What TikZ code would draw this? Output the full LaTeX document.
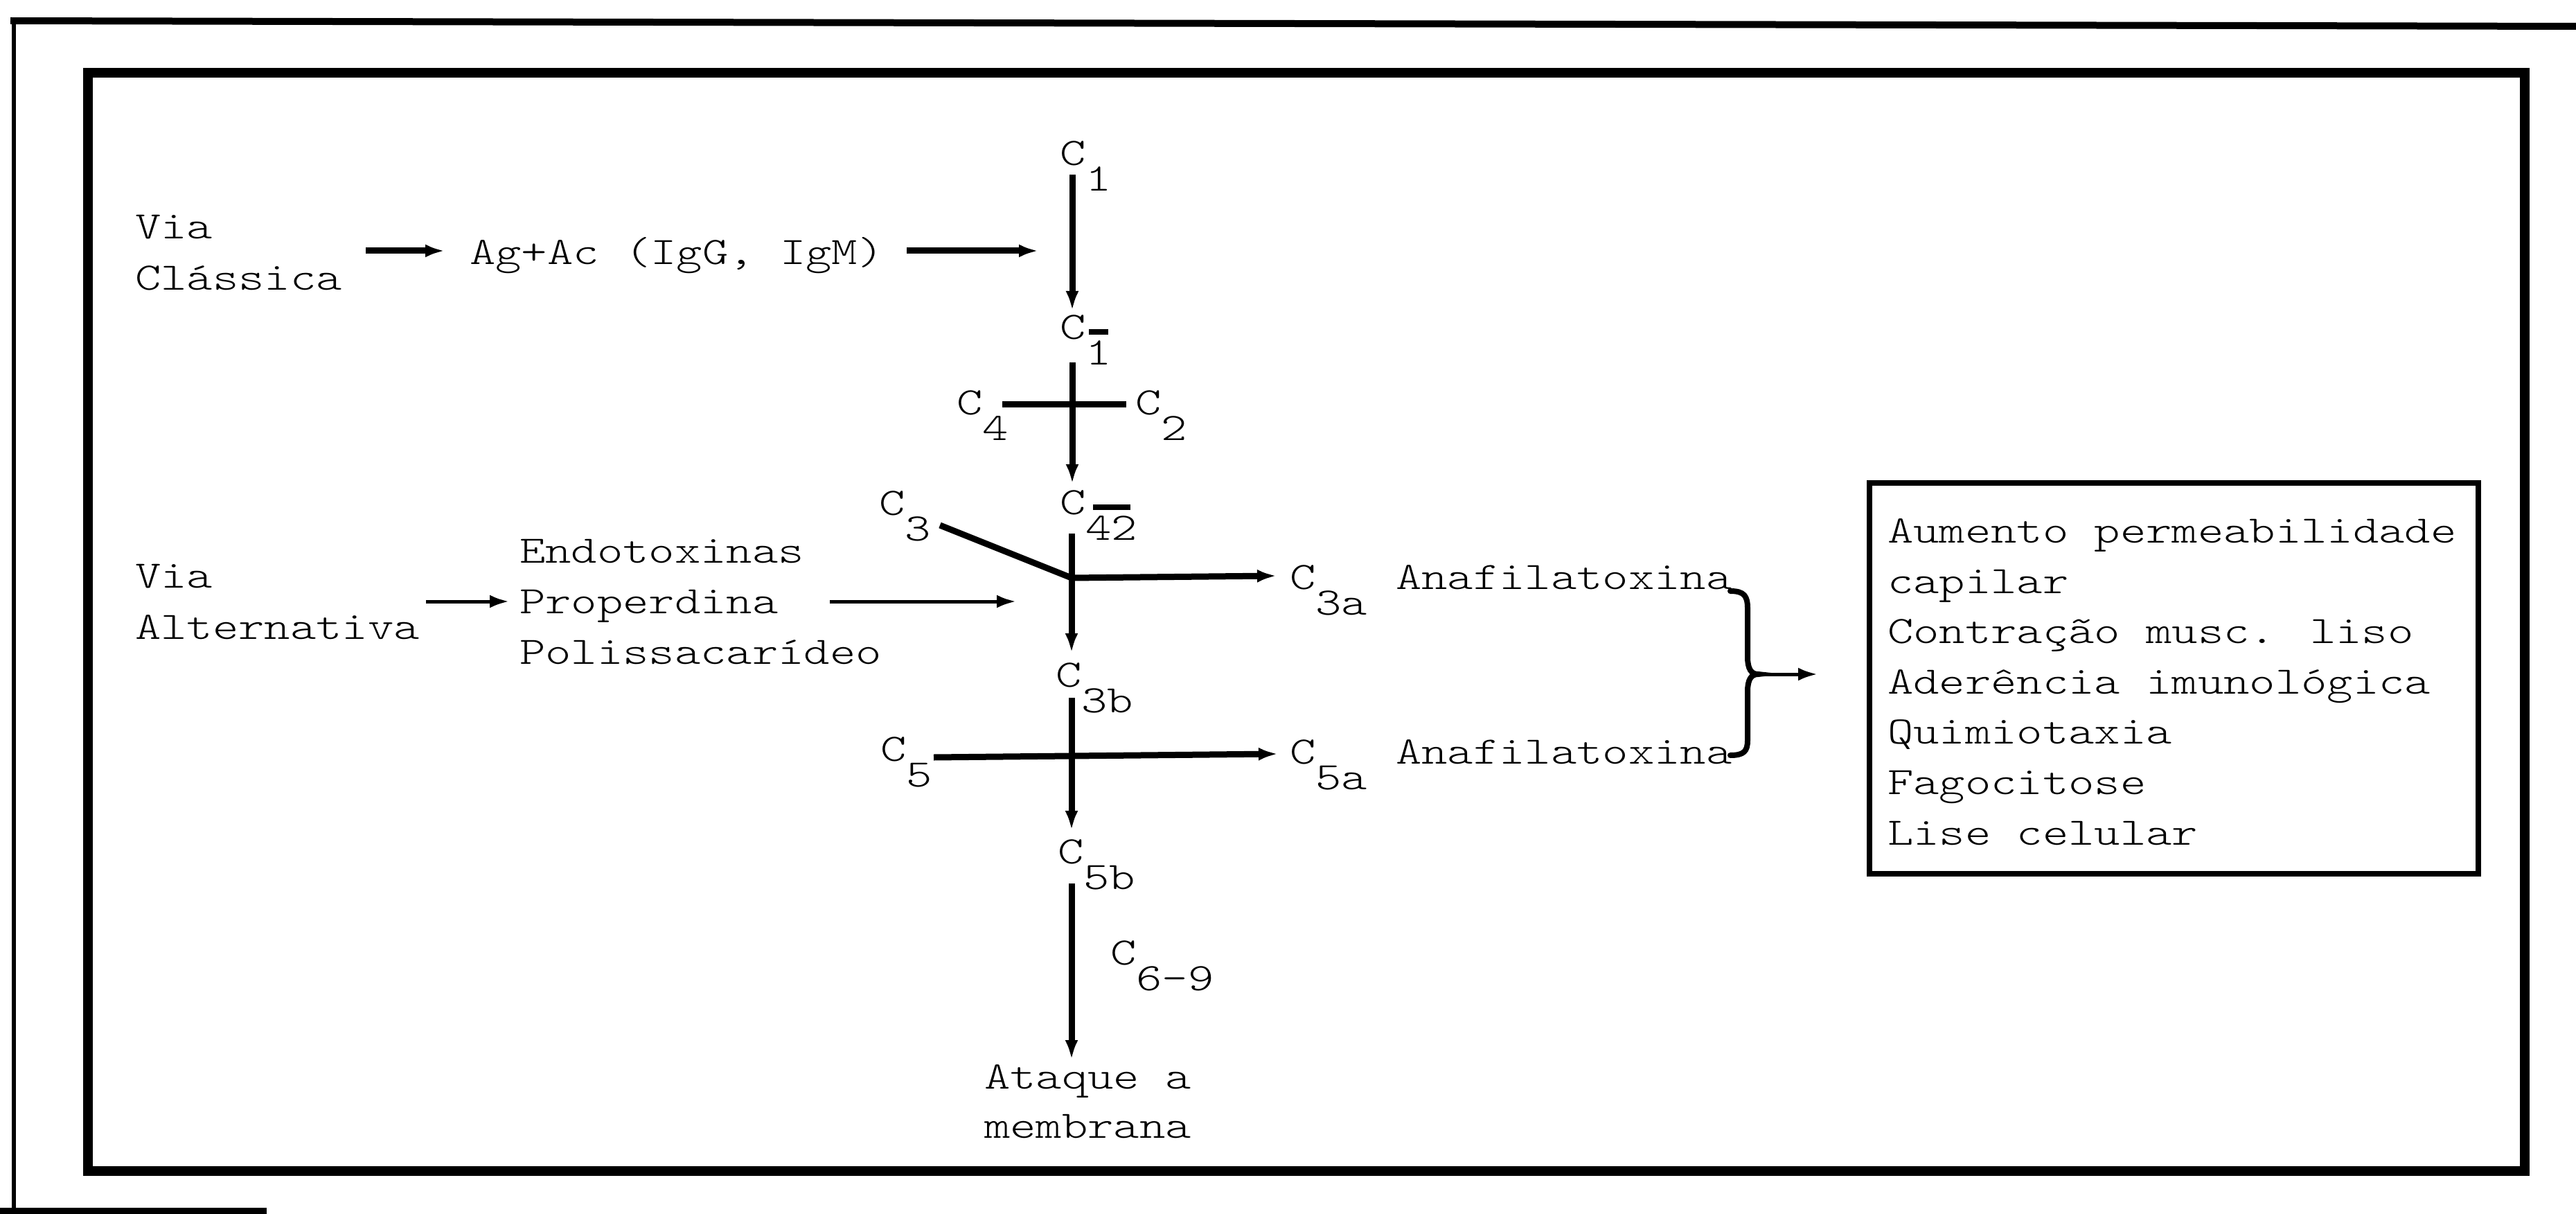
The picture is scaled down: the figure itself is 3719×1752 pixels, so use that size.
\documentclass[tikz,border=0pt]{standalone}
\usepackage{fontspec}
\newfontfamily\twf[FakeStretch=1.27]{lmmonolt10-regular.otf}
\usetikzlibrary{arrows.meta}
\newcommand\tw{\fontsize{56}{73}\selectfont\twf}
\newcommand\sbx[1]{\raisebox{-37pt}{#1}}
\newcommand\obx[2]{\setbox0\hbox{#1}\rlap{\hbox to \wd0{\hss\raisebox{43pt}{\rule{#2}{8pt}}\hss}}\box0}
\tikzset{
  lbl/.style={inner sep=0pt, anchor=base west, font=\tw},
  heavy/.style={line width=9pt},
  thin/.style={line width=5pt},
  arr/.style={-{Latex[length=28pt,width=19pt]}},
  frame/.style={line width=14pt},
  effbox/.style={draw, line width=8pt, inner sep=0pt, anchor=north west, minimum width=879pt, minimum height=564pt}
}
\begin{document}
\begin{tikzpicture}[x=1pt,y=-1pt]
\useasboundingbox (0,0) rectangle (3719,1752);
% frames
\draw[line width=6pt] (20,1752) -- (20,30);
\draw[line width=10pt] (15,30) -- (3719,38);
\draw[line width=9pt] (0,1747) -- (385,1747);
\draw[frame] (127,105) rectangle (3645,1690);

% labels
\node[lbl] (via1) at (195,345) {Via};
\node[lbl] (via2) at (195,418) {Clássica};
\node[lbl] (agac) at (678,382) {Ag+Ac (IgG, IgM)};
\node[lbl] (c1) at (1530,239) {C\sbx{1}};
\node[lbl] (c1b) at (1530,489) {C\sbx{\obx{1}{28pt}}};
\node[lbl] (c4) at (1381,598) {C\sbx{4}};
\node[lbl] (c2) at (1639,598) {C\sbx{2}};
\node[lbl] (c42) at (1530,742) {C\sbx{\obx{42}{54pt}}};
\node[lbl] (c3) at (1269,743) {C\sbx{3}};
\node[lbl] (c3a) at (1862,850) {C\sbx{3a}};
\node[lbl] (ana1) at (2015,850) {Anafilatoxina};
\node[lbl] (c3b) at (1524,991) {C\sbx{3b}};
\node[lbl] (c5) at (1271,1098) {C\sbx{5}};
\node[lbl] (c5a) at (1862,1102) {C\sbx{5a}};
\node[lbl] (ana2) at (2015,1102) {Anafilatoxina};
\node[lbl] (c5b) at (1527,1246) {C\sbx{5b}};
\node[lbl] (c69) at (1603,1392) {C\sbx{6-9}};
\node[lbl] (atq1) at (1421,1571) {Ataque a};
\node[lbl] (atq2) at (1421,1642) {membrana};
\node[lbl] (via3) at (195,848) {Via};
\node[lbl] (via4) at (195,922) {Alternativa};
\node[lbl] (endo1) at (750,812) {Endotoxinas};
\node[lbl] (endo2) at (750,885) {Properdina};
\node[lbl] (endo3) at (750,958) {Polissacarídeo};

% effects box
\node[effbox] (box) at (2695,693) {};
\node[lbl] (e1) at (2725,783) {Aumento permeabilidade};
\node[lbl] (e2) at (2725,856) {capilar};
\node[lbl] (e3) at (2725,928) {Contração musc. liso};
\node[lbl] (e4) at (2725,1001) {Aderência imunológica};
\node[lbl] (e5) at (2725,1073) {Quimiotaxia};
\node[lbl] (e6) at (2725,1146) {Fagocitose};
\node[lbl] (e7) at (2725,1219) {Lise celular};

% connector coordinates
\coordinate (a1s) at (528,362);  \coordinate (a1e) at (642,362);
\coordinate (a2s) at (1309,362); \coordinate (a2e) at (1499,362);
\coordinate (v1s) at (1548,252); \coordinate (v1e) at (1548,448);
\coordinate (v2s) at (1548,523); \coordinate (v2e) at (1548,698);
\coordinate (x42l) at (1447,583); \coordinate (x42r) at (1626,583);
\coordinate (v3s) at (1547,770); \coordinate (v3e) at (1547,942);
\coordinate (j3) at (1547,834);  \coordinate (d3) at (1357,758);
\coordinate (h3e) at (1843,831);
\coordinate (v4s) at (1547,1007); \coordinate (v4e) at (1547,1198);
\coordinate (h5s) at (1348,1093); \coordinate (h5e) at (1845,1088);
\coordinate (v5s) at (1547,1275); \coordinate (v5e) at (1547,1529);
\coordinate (pas) at (1198,868); \coordinate (pae) at (1467,868);
\coordinate (vas) at (615,868);  \coordinate (vae) at (735,868);
\coordinate (bt) at (2538,973);  \coordinate (be) at (2624,973);

% connectors
\draw[heavy,arr] (a1s) -- (a1e);
\draw[heavy,arr] (a2s) -- (a2e);
\draw[heavy,arr] (v1s) -- (v1e);
\draw[heavy,arr] (v2s) -- (v2e);
\draw[heavy] (x42l) -- (x42r);
\draw[heavy,arr] (v3s) -- (v3e);
\draw[heavy] (d3) -- (j3);
\draw[heavy,arr] (j3) -- (h3e);
\draw[heavy,arr] (v4s) -- (v4e);
\draw[heavy,arr] (h5s) -- (h5e);
\draw[heavy,arr] (v5s) -- (v5e);
\draw[thin,arr] (pas) -- (pae);
\draw[thin,arr] (vas) -- (vae);
% brace
\draw[line width=8pt, line cap=round] (2498,853) .. controls (2518,853) and (2523,860) .. (2523,878) -- (2523,948) .. controls (2523,965) and (2528,973) .. (bt) .. controls (2528,973) and (2523,981) .. (2523,998) -- (2523,1068) .. controls (2523,1084) and (2518,1090) .. (2498,1090);
\draw[thin,arr] (bt) -- (be);
\end{tikzpicture}
\end{document}
